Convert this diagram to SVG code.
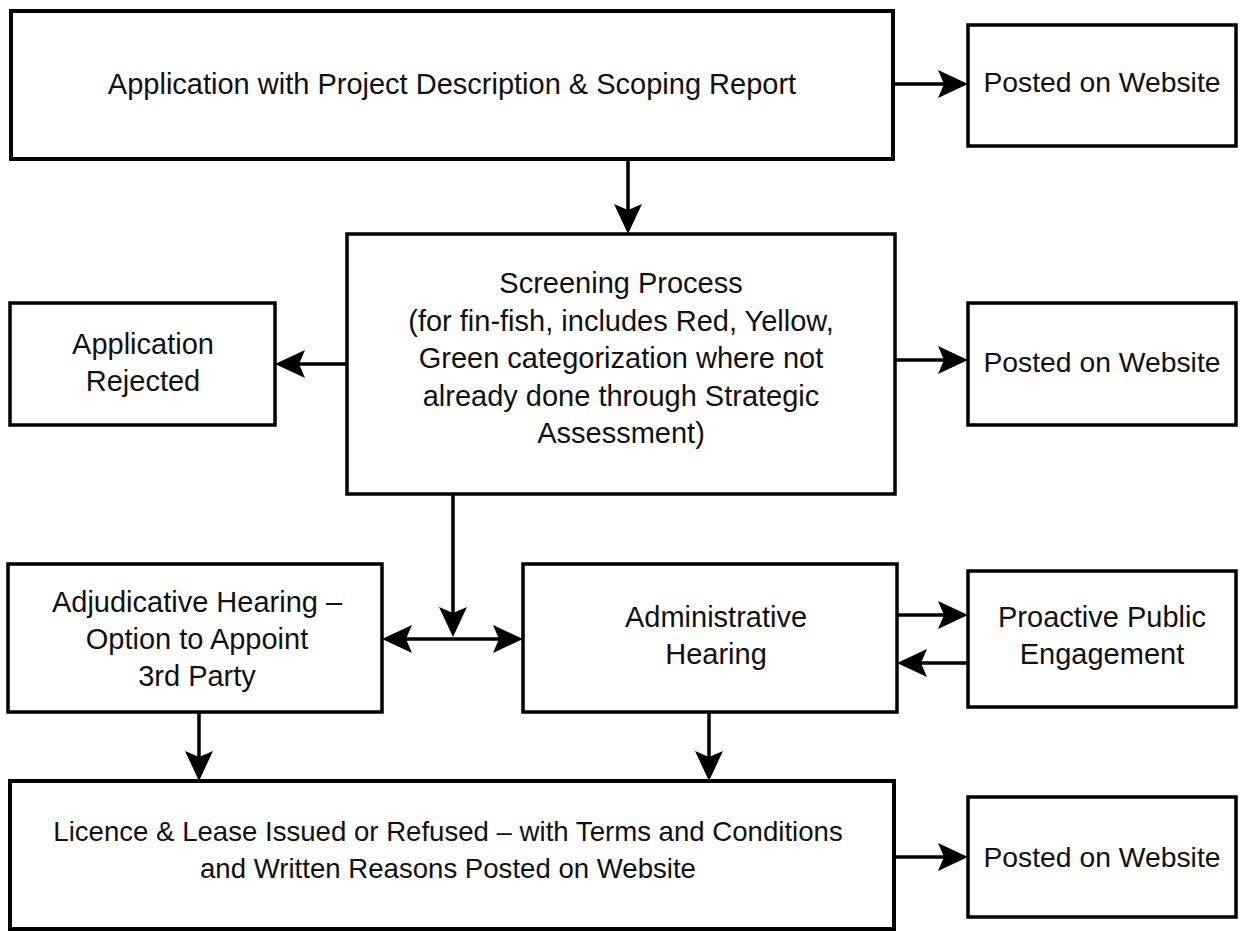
<svg xmlns="http://www.w3.org/2000/svg" width="1244" height="931" viewBox="0 0 1244 931">
<style>
.box{fill:#fff;stroke:#000;stroke-width:3.5}
.big{stroke-width:4}
.t{font-family:"Liberation Sans",Arial,sans-serif;font-size:29px;fill:#111;text-anchor:middle}
.s{font-size:28.3px}
.l{font-size:27.6px}
.c{fill:none;stroke:#000;stroke-width:3.5}
</style>
<defs>
<marker id="ah" viewBox="0 0 30 28" refX="20" refY="14" markerWidth="30" markerHeight="28" markerUnits="userSpaceOnUse" orient="auto-start-reverse">
<path d="M0,0 L30,14 L0,28 L6,14 Z" fill="#000"/>
</marker>
</defs>
<rect width="1244" height="931" fill="#fff"/>
<g id="connectors">
<path class="c" d="M893,84 H958" marker-end="url(#ah)"/>
<path class="c" d="M628,159 V224" marker-end="url(#ah)"/>
<path class="c" d="M347,364 H285" marker-end="url(#ah)"/>
<path class="c" d="M895,360 H958" marker-end="url(#ah)"/>
<path class="c" d="M453,494 V627" marker-end="url(#ah)"/>
<path class="c" d="M392,639 H513" marker-start="url(#ah)" marker-end="url(#ah)"/>
<path class="c" d="M897,615 H958" marker-end="url(#ah)"/>
<path class="c" d="M968,663 H907" marker-end="url(#ah)"/>
<path class="c" d="M199,712 V771" marker-end="url(#ah)"/>
<path class="c" d="M709,712 V771" marker-end="url(#ah)"/>
<path class="c" d="M894,857 H958" marker-end="url(#ah)"/>
</g>
<g id="application">
<rect class="box big" x="11" y="11" width="882" height="148"/>
<text class="t" x="452" y="94" font-size="29.4">Application with Project Description &amp; Scoping Report</text>
</g>
<g id="posted1">
<rect class="box" x="968" y="25" width="268" height="121"/>
<text class="t s" x="1102" y="92">Posted on Website</text>
</g>
<g id="screening">
<rect class="box" x="347" y="234" width="548" height="260"/>
<text class="t" x="621" y="293">Screening Process</text>
<text class="t" x="621" y="330.5">(for fin-fish, includes Red, Yellow,</text>
<text class="t" x="621" y="368">Green categorization where not</text>
<text class="t" x="621" y="405.5">already done through Strategic</text>
<text class="t" x="621" y="443">Assessment)</text>
</g>
<g id="rejected">
<rect class="box" x="10" y="303" width="265" height="122"/>
<text class="t" x="143" y="354">Application</text>
<text class="t" x="143" y="391">Rejected</text>
</g>
<g id="posted2">
<rect class="box" x="968" y="303" width="268" height="122"/>
<text class="t s" x="1102" y="372">Posted on Website</text>
</g>
<g id="adjudicative">
<rect class="box" x="8" y="564" width="374" height="148"/>
<text class="t" x="197" y="611.5">Adjudicative Hearing –</text>
<text class="t" x="197" y="648.5">Option to Appoint</text>
<text class="t" x="197" y="685.5">3rd Party</text>
</g>
<g id="administrative">
<rect class="box" x="523" y="564" width="374" height="148"/>
<text class="t" x="716" y="627">Administrative</text>
<text class="t" x="716" y="663.5">Hearing</text>
</g>
<g id="proactive">
<rect class="box" x="968" y="571" width="268" height="136"/>
<text class="t" x="1102" y="627">Proactive Public</text>
<text class="t" x="1102" y="663.5">Engagement</text>
</g>
<g id="licence">
<rect class="box big" x="10" y="781" width="884" height="148"/>
<text class="t l" x="448" y="841">Licence &amp; Lease Issued or Refused – with Terms and Conditions</text>
<text class="t l" x="448" y="878">and Written Reasons Posted on Website</text>
</g>
<g id="posted3">
<rect class="box" x="968" y="797" width="268" height="120"/>
<text class="t s" x="1102" y="867">Posted on Website</text>
</g>
</svg>
